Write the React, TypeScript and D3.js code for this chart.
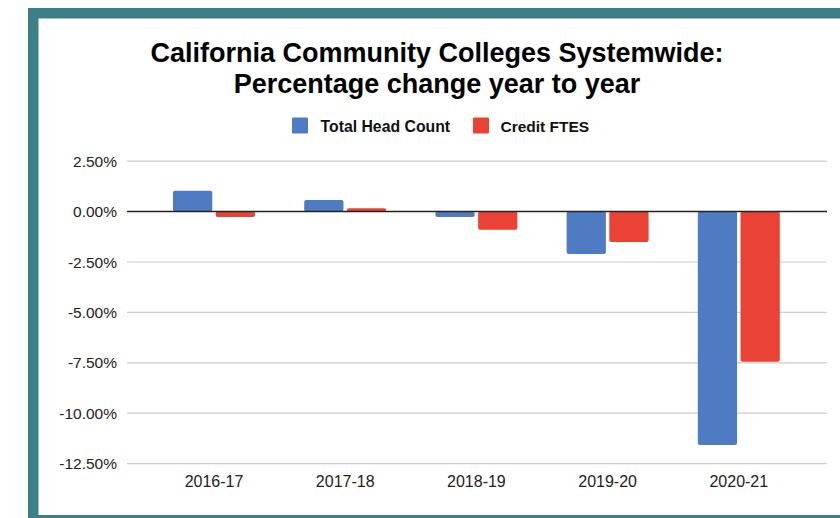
import React from "react";
import * as d3 from "d3";

const categories = ["2016-17", "2017-18", "2018-19", "2019-20", "2020-21"];
const seriesNames = ["Total Head Count", "Credit FTES"];
const headCount = [1.03, 0.57, -0.27, -2.1, -11.58];
const creditFtes = [-0.27, 0.16, -0.9, -1.51, -7.45];
const yTicks = [2.5, 0, -2.5, -5, -7.5, -10, -12.5];
const colors = ["#4f7bc3", "#ea4335"];
const titleLines = ["California Community Colleges Systemwide:", "Percentage change year to year"];

export default function App() {
  const W = 840, H = 518;
  const gridLeft = 127, gridRight = 827;
  const y = d3.scaleLinear().domain([-12.5, 2.5]).range([463.6, 161.2]);
  const x0 = d3.scaleBand<string>().domain(categories).range([148.4, 804.4]).paddingInner(0.375).paddingOuter(0.1875);
  const x1 = d3.scaleBand<string>().domain(seriesNames).range([0, x0.bandwidth()]).paddingInner(0.08);
  const data = [headCount, creditFtes];
  const fmt = (v: number) => (d3.format(".2f")(v) + "%").replace("\u2212", "-");
  const font = "Liberation Sans, Arial, sans-serif";

  return (
    <svg width={W} height={H} style={{ position: "absolute", left: 0, top: 0, background: "#fff" }} fontFamily={font}>
      <rect x={28} y={8} width={W - 28} height={H - 8} fill="#3d7f87" />
      <rect x={38.5} y={18.5} width={W - 38.5} height={515 - 18.5} fill="#fff" />
      {titleLines.map((t, i) => (
        <text key={t} x={437} y={62 + i * 30.5} textAnchor="middle" fontSize={27} fontWeight="bold" fill="#000">{t}</text>
      ))}
      {/* legend */}
      <rect x={292} y={117.5} width={16} height={16} fill={colors[0]} rx={1} />
      <text x={320.5} y={131.5} fontSize={15.8} fontWeight="bold" fill="#111">{seriesNames[0]}</text>
      <rect x={473} y={117.5} width={16} height={16} fill={colors[1]} rx={1} />
      <text x={500.5} y={131.5} fontSize={15.5} fontWeight="bold" fill="#111">{seriesNames[1]}</text>
      {/* grid */}
      {yTicks.map((t) => (
        <g key={t}>
          {t !== 0 && <line x1={gridLeft} x2={gridRight} y1={y(t)} y2={y(t)} stroke="#cccccc" strokeWidth={1.2} />}
          <text x={117} y={y(t) + 5.5} textAnchor="end" fontSize={15.5} fill="#222">{fmt(t)}</text>
        </g>
      ))}
      {/* bars */}
      {categories.map((c, i) => (
        <g key={c} transform={`translate(${x0(c)},0)`}>
          {seriesNames.map((s, j) => {
            const v = data[j][i];
            const top = y(Math.max(0, v));
            const h = Math.abs(y(v) - y(0));
            return <rect key={s} x={x1(s)} y={top} width={x1.bandwidth()} height={h} fill={colors[j]} rx={2} />;
          })}
          <text x={x0.bandwidth() / 2} y={487} textAnchor="middle" fontSize={16} fill="#222">{c}</text>
        </g>
      ))}
      <line x1={gridLeft} x2={gridRight} y1={y(0)} y2={y(0)} stroke="#222" strokeWidth={1.5} />
    </svg>
  );
}
